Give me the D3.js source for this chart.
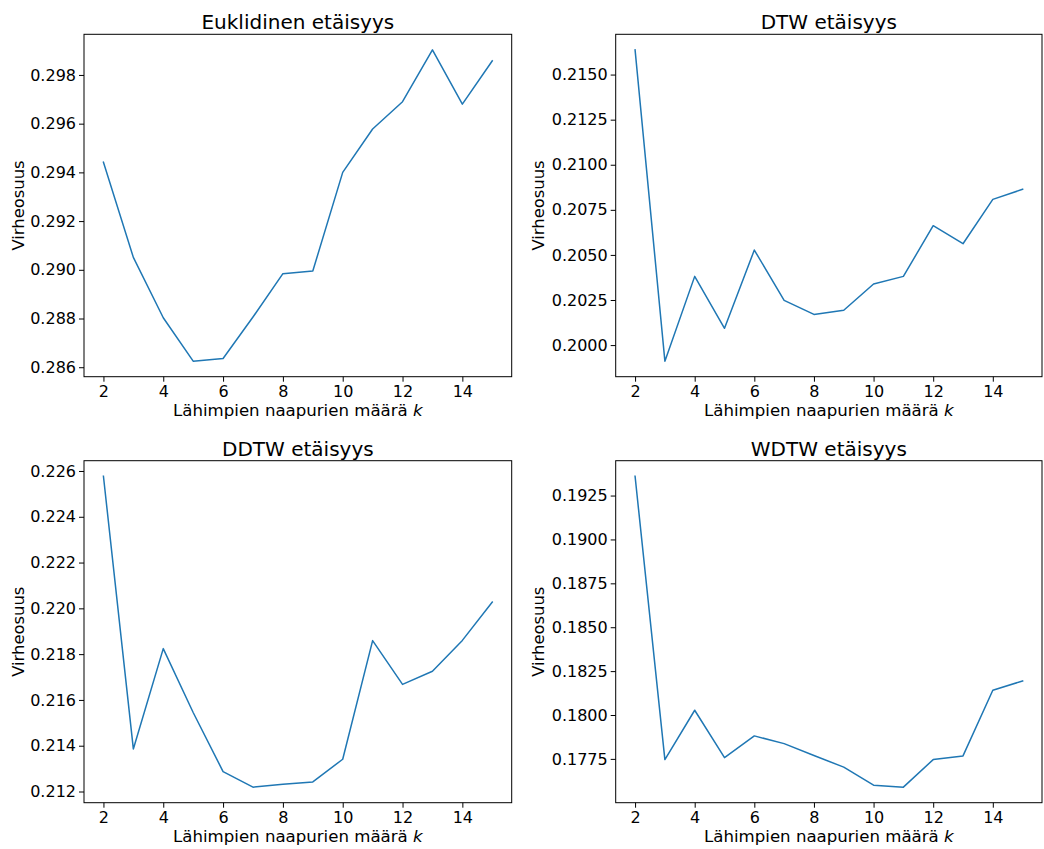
<!DOCTYPE html>
<html>
<head>
<meta charset="utf-8">
<script src="https://cdn.jsdelivr.net/npm/d3@7"></script>
<style>
  html, body { margin: 0; padding: 0; background: #fff; }
  svg { display: block; font-family: "DejaVu Sans", sans-serif; }
</style>
</head>
<body>
<svg id="chart" width="1044" height="849"></svg>
<script>
// ---- Data ----
const kValues = [2, 3, 4, 5, 6, 7, 8, 9, 10, 11, 12, 13, 14, 15];

const euclideanError = [0.29442, 0.29051, 0.28803, 0.28625, 0.28636, 0.28806, 0.28984, 0.28995,
                        0.29400, 0.29578, 0.29690, 0.29903, 0.29680, 0.29858];
const dtwError = [0.21637, 0.19911, 0.20381, 0.20093, 0.20527, 0.20248, 0.20170, 0.20193,
                  0.20339, 0.20381, 0.20662, 0.20562, 0.20808, 0.20864];
const ddtwError = [0.22577, 0.21386, 0.21824, 0.21545, 0.21287, 0.21219, 0.21232, 0.21242,
                   0.21341, 0.21859, 0.21668, 0.21725, 0.21860, 0.22027];
const wdtwError = [0.19360, 0.17746, 0.18027, 0.17757, 0.17881, 0.17837, 0.17769, 0.17703,
                   0.17600, 0.17589, 0.17746, 0.17767, 0.18141, 0.18194];

const xTicks = [2, 4, 6, 8, 10, 12, 14];
const yTicksEuclidean = [0.286, 0.288, 0.290, 0.292, 0.294, 0.296, 0.298];
const yTicksDtw = [0.2000, 0.2025, 0.2050, 0.2075, 0.2100, 0.2125, 0.2150];
const yTicksDdtw = [0.212, 0.214, 0.216, 0.218, 0.220, 0.222, 0.224, 0.226];
const yTicksWdtw = [0.1775, 0.1800, 0.1825, 0.1850, 0.1875, 0.1900, 0.1925];

const titles = ["Euklidinen etäisyys", "DTW etäisyys", "DDTW etäisyys", "WDTW etäisyys"];
const xLabel = "Lähimpien naapurien määrä ";
const xLabelVar = "k";
const yLabel = "Virheosuus";

// ---- Layout ----
const panels = [
  { title: titles[0], values: euclideanError, yTicks: yTicksEuclidean, fmt: ".3f", left: 84, right: 511.7, top: 34.3, bottom: 376.7, ylabX: 23.5 },
  { title: titles[1], values: dtwError, yTicks: yTicksDtw, fmt: ".4f", left: 615.7, right: 1042, top: 34.3, bottom: 376.7, ylabX: 543.5 },
  { title: titles[2], values: ddtwError, yTicks: yTicksDdtw, fmt: ".3f", left: 84, right: 511.7, top: 460.7, bottom: 802.7, ylabX: 23.5 },
  { title: titles[3], values: wdtwError, yTicks: yTicksWdtw, fmt: ".4f", left: 615.7, right: 1042, top: 460.7, bottom: 802.7, ylabX: 543.5 }
];

const svg = d3.select("#chart");

function padDomain(ext) {
  const r = ext[1] - ext[0];
  return [ext[0] - 0.05 * r, ext[1] + 0.05 * r];
}

panels.forEach(p => {
  const xExt = padDomain(d3.extent(kValues));
  const yExt = padDomain(d3.extent(p.values));
  const x = d3.scaleLinear().domain(xExt).range([p.left, p.right]);
  const y = d3.scaleLinear().domain(yExt).range([p.bottom, p.top]);

  const g = svg.append("g");

  // line
  const line = d3.line().x((d, i) => x(kValues[i])).y(d => y(d));
  g.append("path")
    .datum(p.values)
    .attr("fill", "none")
    .attr("stroke", "#1f77b4")
    .attr("stroke-width", 1.5)
    .attr("stroke-linejoin", "round")
    .attr("stroke-linecap", "square")
    .attr("d", line);

  // x axis
  const xAxis = d3.axisBottom(x).tickValues(xTicks).tickSize(5).tickPadding(4).tickFormat(d3.format("d"));
  const xg = g.append("g").attr("transform", `translate(0,${p.bottom})`).call(xAxis);
  xg.select(".domain").remove();
  xg.selectAll(".tick line").attr("stroke", "#000").attr("stroke-width", 1);
  xg.selectAll(".tick text").attr("font-size", 16).attr("fill", "#000")
    .attr("font-family", "DejaVu Sans");

  // y axis
  const yAxis = d3.axisLeft(y).tickValues(p.yTicks).tickSize(5).tickPadding(3).tickFormat(d3.format(p.fmt));
  const yg = g.append("g").attr("transform", `translate(${p.left},0)`).call(yAxis);
  yg.select(".domain").remove();
  yg.selectAll(".tick line").attr("stroke", "#000").attr("stroke-width", 1);
  yg.selectAll(".tick text").attr("font-size", 16).attr("fill", "#000")
    .attr("font-family", "DejaVu Sans");

  // frame
  g.append("rect")
    .attr("x", p.left).attr("y", p.top)
    .attr("width", p.right - p.left).attr("height", p.bottom - p.top)
    .attr("fill", "none").attr("stroke", "#000").attr("stroke-width", 1);

  // title
  g.append("text")
    .attr("x", (p.left + p.right) / 2).attr("y", p.top - 5)
    .attr("text-anchor", "middle").attr("font-size", 20).attr("fill", "#000")
    .text(p.title);

  // x label
  const xl = g.append("text")
    .attr("x", (p.left + p.right) / 2).attr("y", p.bottom + 39.5)
    .attr("text-anchor", "middle").attr("font-size", 16.6).attr("fill", "#000");
  xl.append("tspan").text(xLabel);
  xl.append("tspan").attr("font-style", "italic").text(xLabelVar);

  // y label
  g.append("text")
    .attr("transform", `translate(${p.ylabX},${(p.top + p.bottom) / 2}) rotate(-90)`)
    .attr("text-anchor", "middle").attr("font-size", 16.4).attr("fill", "#000")
    .text(yLabel);
});
</script>
</body>
</html>
